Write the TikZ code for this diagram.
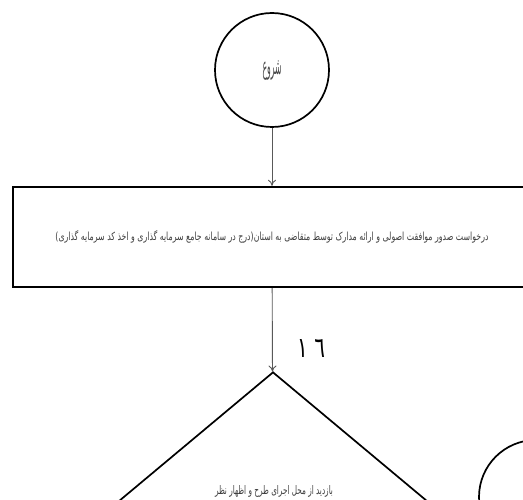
\documentclass[tikz,border=0pt]{standalone}
\usepackage{fontspec}
\usepackage{graphicx}
\usetikzlibrary{shapes.geometric,arrows.meta}
\TeXXeTstate=1
\newfontfamily\arabicfont[Script=Arabic]{DejaVu Sans}
\tikzset{
  startcirc/.style={circle,draw=black,line width=1.7pt,minimum size=114pt,inner sep=0pt,text=black!70},
  procbox/.style={rectangle,draw=black,line width=2.4pt,minimum width=518pt,minimum height=100pt,inner sep=0pt,text=black!75},
  decbox/.style={diamond,draw=black,line width=1.7pt,minimum width=354pt,minimum height=296pt,inner sep=0pt,text=black!75},
  flow/.style={draw=black!65,line width=0.9pt,-{To[length=6pt,width=8pt]}},
  numlbl/.style={inner sep=0pt,text=black}
}
\begin{document}
\begin{tikzpicture}[x=1pt,y=-1pt]
\clip (0,0) rectangle (523,500);
\fill[white] (0,0) rectangle (523,500);
\node[startcirc] (start) at (272,70) {\resizebox{19pt}{14pt}{\arabicfont\beginR شروع\endR}};
\node[procbox] (req) at (272,237) {\resizebox{433pt}{10pt}{\arabicfont\beginR درخواست صدور موافقت اصولی و ارائه مدارک توسط متقاضی به استان(درج در سامانه جامع سرمایه گذاری و اخذ کد سرمایه گذاری)\endR}};
\node[decbox] (visit) at (273,520) {};
\node[inner sep=0pt,text=black!75] (visittxt) at (274,491) {\resizebox{118pt}{9pt}{\arabicfont\beginR بازدید از محل اجرای طرح و اظهار نظر\endR}};
\node[circle,draw=black,line width=1.7pt,minimum size=114pt,inner sep=0pt] (endc) at (536,497) {};
\draw[flow] (start) -- (req);
\draw[flow] (req) -- (visit);
\node[numlbl] (num) at (311,348) {\resizebox{28pt}{18pt}{\arabicfont ١\,\,٦}};
\end{tikzpicture}
\end{document}
